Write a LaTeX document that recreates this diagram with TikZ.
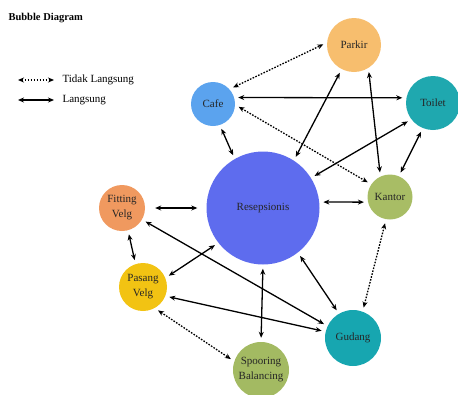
\documentclass[tikz,border=0pt]{standalone}
\usepackage{fontspec}
\setmainfont{Liberation Serif}
\usetikzlibrary{arrows.meta}
\definecolor{cafeblue}{HTML}{5BA3EE}
\definecolor{parkirorange}{HTML}{F7BE6E}
\definecolor{toiletteal}{HTML}{1FA8AF}
\definecolor{kantorgreen}{HTML}{A8BD65}
\definecolor{resepblue}{HTML}{5E6CEE}
\definecolor{fittingorange}{HTML}{F0995F}
\definecolor{pasangyellow}{HTML}{F2C313}
\definecolor{spooringgreen}{HTML}{A3BA62}
\definecolor{gudangteal}{HTML}{17A6B0}
\begin{document}
\begin{tikzpicture}[x=1pt,y=-1pt,>={Stealth[length=6pt,width=5pt]},line join=round,
	every node/.style={font=\fontsize{11}{12}\selectfont},
	bubble/.style={circle,inner sep=0pt,align=center,minimum size=#1,text=black!85,font=\fontsize{11}{15}\selectfont},
	lang/.style={<->,line width=1.3pt,shorten <=4pt,shorten >=4pt},
	tidak/.style={lang,dash pattern=on 1.6pt off 1.4pt}]
	\useasboundingbox (0,0) rectangle (458,394);
	% title and legend
	\node[anchor=west,font=\fontsize{10.5}{12}\selectfont\bfseries] (title) at (5,18) {Bubble Diagram};
	\coordinate (l1a) at (18,80); \coordinate (l1b) at (54,80);
	\coordinate (l2a) at (18,100); \coordinate (l2b) at (54,100);
	\draw[<->,line width=1.3pt,dash pattern=on 1.6pt off 1.4pt] (l1a) -- (l1b);
	\draw[<->,line width=1.3pt] (l2a) -- (l2b);
	\node[anchor=west] (tl) at (59,80) {Tidak Langsung};
	\node[anchor=west] (ls) at (59,100) {Langsung};
	% bubbles
	\node[bubble=44pt,fill=cafeblue] (cafe) at (213,104) {Cafe};
	\node[bubble=54pt,fill=parkirorange] (parkir) at (354,45) {Parkir};
	\node[bubble=54pt,fill=toiletteal] (toilet) at (433,103) {Toilet};
	\node[bubble=45pt,fill=kantorgreen] (kantor) at (390,197) {Kantor};
	\node[bubble=113pt,fill=resepblue] (resep) at (263,208) {Resepsionis};
	\node[bubble=46pt,fill=fittingorange] (fitting) at (122,208) {Fitting\\Velg};
	\node[bubble=48pt,fill=pasangyellow] (pasang) at (143,287) {Pasang\\Velg};
	\node[bubble=56pt,fill=spooringgreen] (spooring) at (261,370) {Spooring\\Balancing};
	\node[bubble=56pt,fill=gudangteal] (gudang) at (353,338) {Gudang};
	% langsung
	\draw[lang] (cafe.17) -- (toilet.169);
	\draw[lang] (cafe.-72) -- (resep.120);
	\draw[lang] (parkir.-117) -- (resep.57);
	\draw[lang] (parkir.-58) -- (kantor.115);
	\draw[lang] (toilet.-143) -- (resep.32);
	\draw[lang] (toilet.-112) -- (kantor.67);
	\draw[lang] (resep.6) -- (kantor.193);
	\draw[lang,shorten <=10pt,shorten >=9pt] (fitting.east) -- (resep.west);
	\draw[lang] (fitting.-75) -- (pasang.108);
	\draw[lang] (pasang.22) -- (resep.218);
	\draw[lang] (fitting.-30) -- (gudang.155);
	\draw[lang] (pasang.-22) -- (gudang.167);
	\draw[lang] (resep.south) -- (spooring.north);
	\draw[lang] (resep.-52) -- (gudang.120);
	% tidak langsung
	\draw[tidak] (cafe.42) -- (parkir.175);
	\draw[tidak] (cafe.-2) -- (kantor.146);
	\draw[tidak] (kantor.-100) -- (gudang.70);
	\draw[tidak] (pasang.-61) -- (spooring.162);
\end{tikzpicture}
\end{document}
